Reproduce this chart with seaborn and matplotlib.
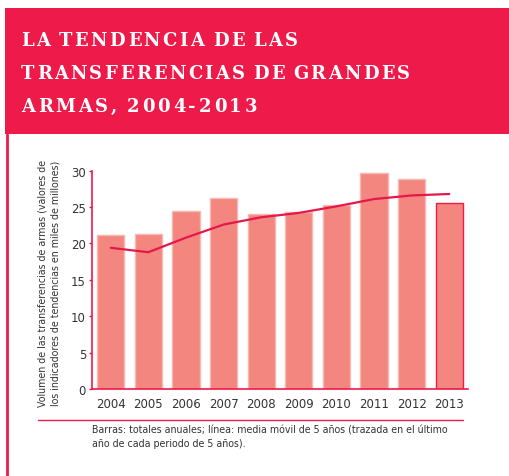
import matplotlib
import matplotlib.pyplot as plt
import numpy as np
import seaborn as sns
from matplotlib.patches import Rectangle
from matplotlib.lines import Line2D
from matplotlib.font_manager import FontProperties

matplotlib.use("Agg")

YEARS = ["2004", "2005", "2006", "2007", "2008", "2009", "2010", "2011", "2012", "2013"]
ANNUAL_TOTALS = [21.2, 21.3, 24.4, 26.3, 24.1, 24.3, 25.3, 29.7, 28.8, 25.6]
MOVING_AVG = [19.4, 18.8, 20.8, 22.6, 23.6, 24.2, 25.1, 26.1, 26.6, 26.8]
Y_TICKS = [0, 5, 10, 15, 20, 25, 30]

TITLE_LINES = ["LA TENDENCIA DE LAS", "TRANSFERENCIAS DE GRANDES", "ARMAS, 2004-2013"]
YLABEL = ("Volumen de las transferencias de armas (valores de\n"
          "los indicadores de tendencias en miles de millones)")
CAPTION = ("Barras: totales anuales; línea: media móvil de 5 años (trazada en el último\n"
           "año de cada periodo de 5 años).")

RED = "#EE1A4A"
LINE_RED = "#E5184A"
BAR = "#F3867E"
BAR_EDGE = "#F8B7B2"
TEXT = "#333333"

W, H = 509, 477

sns.set_theme(style="white")
plt.rcParams["font.family"] = ["DejaVu Sans"]

fig = plt.figure(figsize=(W / 100, H / 100), dpi=100)

# banner + left border
fig.patches.append(Rectangle((5 / W, 1 - 135 / H), 1, 126 / H, transform=fig.transFigure,
                             facecolor=RED, edgecolor="none", zorder=0))
fig.lines.append(Line2D([6.5 / W, 6.5 / W], [0, 1 - 135 / H], transform=fig.transFigure,
                        color=RED, lw=2))


def tracked_text(x0, y, s, target_w, prop):
    # letter-spaced title: place characters one by one
    renderer = fig.canvas.get_renderer()

    def width(t):
        return renderer.get_text_width_height_descent(t, prop, ismath=False)[0]

    ws = [0.6 * (width("n n") - width("nn")) if c == " " else width(c) for c in s]
    track = (target_w - sum(ws[:-1]) - ws[-1]) / (len(s) - 1)
    x = x0
    for c, w in zip(s, ws):
        if c != " ":
            fig.text(x / W, 1 - y / H, c, fontproperties=prop, color="white",
                     va="baseline", ha="left")
        x += w + track


title_prop = FontProperties(family="DejaVu Serif", weight="bold", size=13)
tracked_text(21, 45.7, TITLE_LINES[0], 277, title_prop)
tracked_text(21, 79, TITLE_LINES[1], 389, title_prop)
tracked_text(21, 111.7, TITLE_LINES[2], 236, title_prop)

ax = fig.add_axes([92 / W, 1 - 390 / H, (468 - 92) / W, (390 - 171.7) / H])

x_pos = np.arange(len(YEARS))
sns.barplot(x=x_pos, y=ANNUAL_TOTALS, color=BAR, width=0.72, saturation=1,
            edgecolor=BAR_EDGE, linewidth=1, ax=ax, zorder=2)
ax.patches[-1].set_edgecolor(RED)
sns.lineplot(x=x_pos, y=MOVING_AVG, color=LINE_RED, lw=1.6, ax=ax, zorder=3)

ax.set_xlim(-0.5, len(YEARS) - 0.5)
ax.set_ylim(0, 30)
ax.set_yticks(Y_TICKS)
ax.set_xticks(x_pos)
ax.set_xticklabels(YEARS)
ax.tick_params(axis="y", length=2.5, width=1, color=RED, pad=1.8, labelsize=8.5,
               labelcolor=TEXT, left=True)
ax.tick_params(axis="x", length=0, pad=5.5, labelsize=8.5, labelcolor=TEXT)
ax.set_xlabel("")
ax.set_ylabel("")
for side in ["top", "right"]:
    ax.spines[side].set_visible(False)
for side in ["left", "bottom"]:
    ax.spines[side].set_color(RED)
    ax.spines[side].set_linewidth(1.2)

fig.text(49 / W, 1 - 283 / H, YLABEL, rotation=90, ha="center", va="center",
         fontsize=6.85, color=TEXT, linespacing=1.4)

fig.lines.append(Line2D([38 / W, 463 / W], [1 - 420.7 / H] * 2, transform=fig.transFigure,
                        color=RED, lw=1))
fig.text(92 / W, 1 - 426 / H, CAPTION, ha="left", va="top", fontsize=6.85, color=TEXT,
         linespacing=1.4)

fig.savefig("out.png", dpi=100)
